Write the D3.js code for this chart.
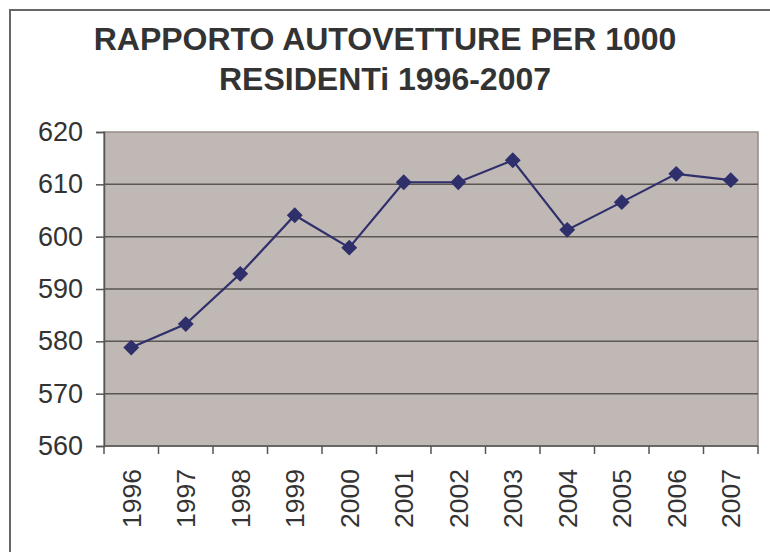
<!DOCTYPE html>
<html>
<head>
<meta charset="utf-8">
<script src="https://cdn.jsdelivr.net/npm/d3@7"></script>
<style>
  body { margin: 0; background: #fff; }
  svg { display: block; font-family: "Liberation Sans", Arial, sans-serif; }
</style>
</head>
<body>
<svg id="chart" width="770" height="552"></svg>
<script>
// data
var years = ["1996","1997","1998","1999","2000","2001","2002","2003","2004","2005","2006","2007"];
var values = [578.8, 583.3, 592.9, 604.1, 597.9, 610.4, 610.4, 614.6, 601.3, 606.6, 612.0, 610.8];
var yTicks = [560, 570, 580, 590, 600, 610, 620];
var titleLines = ["RAPPORTO AUTOVETTURE PER 1000", "RESIDENTi 1996-2007"];

var svg = d3.select("#chart");
var plot = { left: 104, top: 132, right: 758, bottom: 446 };

// outer frame (runs off right/bottom edge like the original)
svg.append("rect")
  .attr("x", 10).attr("y", 10)
  .attr("width", 800).attr("height", 600)
  .attr("fill", "#fff")
  .attr("stroke", "#666")
  .attr("stroke-width", 2);

// title
svg.append("g").selectAll("text")
  .data(titleLines)
  .join("text")
  .attr("x", 385)
  .attr("y", (d, i) => 50 + i * 40)
  .attr("text-anchor", "middle")
  .attr("font-size", 32)
  .attr("font-weight", "bold")
  .attr("fill", "#333")
  .text(d => d);

var x = d3.scaleBand().domain(years).range([plot.left, plot.right]);
var y = d3.scaleLinear().domain([560, 620]).range([plot.bottom, plot.top]);

// plot area
svg.append("rect")
  .attr("x", plot.left).attr("y", plot.top)
  .attr("width", plot.right - plot.left).attr("height", plot.bottom - plot.top)
  .attr("fill", "#c0b8b5")
  .attr("stroke", "#958b87")
  .attr("stroke-width", 1.5);

// gridlines
svg.append("g").selectAll("line")
  .data(yTicks.filter(d => d > 560 && d < 620))
  .join("line")
  .attr("x1", plot.left).attr("x2", plot.right)
  .attr("y1", d => y(d)).attr("y2", d => y(d))
  .attr("stroke", "#5a5655")
  .attr("stroke-width", 1.5);

// y axis
var yAxis = svg.append("g")
  .attr("transform", "translate(" + plot.left + ",0)")
  .call(d3.axisLeft(y).tickValues(yTicks).tickSize(8).tickPadding(13));
yAxis.select(".domain").attr("stroke", "#555").attr("stroke-width", 1.5);
yAxis.selectAll(".tick line").attr("stroke", "#555").attr("stroke-width", 1.5);
yAxis.selectAll(".tick text")
  .attr("font-size", 27)
  .attr("font-family", "Liberation Sans, Arial, sans-serif")
  .attr("fill", "#333");

// x axis: ticks at band boundaries, labels rotated
var xg = svg.append("g");
xg.append("line")
  .attr("x1", plot.left).attr("x2", plot.right)
  .attr("y1", plot.bottom).attr("y2", plot.bottom)
  .attr("stroke", "#555").attr("stroke-width", 1.5);
xg.selectAll("line.tk")
  .data(years.concat(["end"]))
  .join("line")
  .attr("class", "tk")
  .attr("x1", (d, i) => plot.left + i * x.step())
  .attr("x2", (d, i) => plot.left + i * x.step())
  .attr("y1", plot.bottom).attr("y2", plot.bottom + 8)
  .attr("stroke", "#555").attr("stroke-width", 1.5);
xg.selectAll("text")
  .data(years)
  .join("text")
  .attr("transform", d => "translate(" + (x(d) + x.bandwidth() / 2) + "," + 469 + ") rotate(-90)")
  .attr("text-anchor", "end")
  .attr("dy", "0.36em")
  .attr("font-size", 26.5)
  .attr("fill", "#333")
  .text(d => d);

// line + markers
var pts = years.map((d, i) => [x(d) + x.bandwidth() / 2, y(values[i])]);
svg.append("path")
  .datum(pts)
  .attr("d", d3.line())
  .attr("fill", "none")
  .attr("stroke", "#2e2f6b")
  .attr("stroke-width", 2.2);

svg.append("g").selectAll("path")
  .data(pts)
  .join("path")
  .attr("transform", d => "translate(" + d[0] + "," + d[1] + ")")
  .attr("d", d3.symbol(d3.symbolDiamond2, 160))
  .attr("fill", "#2e2f6b");
</script>
</body>
</html>
